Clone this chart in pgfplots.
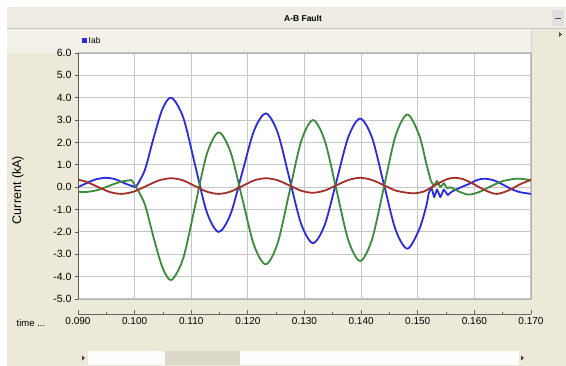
\documentclass[border=0pt]{standalone}
\usepackage{fontspec}
\setmainfont{Liberation Sans}
\usepackage{pgfplots}
\pgfplotsset{compat=1.18}
\definecolor{bgbeige}{HTML}{ECE9D8}
\definecolor{barbeige}{HTML}{EFEDE3}
\definecolor{legbeige}{HTML}{F3F1E8}
\definecolor{gridgray}{HTML}{C6C6C6}
\definecolor{cblue}{HTML}{2A2AE0}
\definecolor{cgreen}{HTML}{3B8B3B}
\definecolor{cred}{HTML}{A3302A}
\begin{document}
\begin{tikzpicture}[x=1pt,y=1pt]
\useasboundingbox (0,0) rectangle (566,366);
\fill[white] (0,0) rectangle (566,366);
\fill[bgbeige] (7,0) rectangle (566,359);
% title bar
\fill[barbeige] (7,338) rectangle (566,359);
\draw[gray!45, line width=0.8pt] (7,338) -- (566,338);
\node[font=\bfseries\fontsize{8.5}{9}\selectfont] at (303,348) {A-B Fault};
\fill[gray!25] (552,340) rectangle (564,356);
\draw[black!70, line width=1pt] (555,347) -- (561,347);
% legend bar
\fill[legbeige] (7,313) rectangle (531,337);
\draw[gray!35] (531,313) -- (531,337);
\fill[black!70] (559,329) -- (562,331.5) -- (559,334) -- cycle;
\fill[cblue] (82,323) rectangle (87,328);
\node[anchor=west, font=\fontsize{8.5}{9}\selectfont, inner sep=0pt] at (88.5,325.5) {Iab};
% scrollbar
\fill[white!92!bgbeige] (88,1) rectangle (519,15);
\fill[bgbeige!85!gray] (165,1) rectangle (240,15);
\fill[black!75] (85,8) -- (82,5.5) -- (82,10.5) -- cycle;
\fill[black!75] (521,5.5) -- (524,8) -- (521,10.5) -- cycle;
% labels
\node[rotate=90, font=\fontsize{12.5}{13}\selectfont] at (18,176) {Current (kA)};
\node[font=\fontsize{9.5}{10}\selectfont] at (31,43) {time ...};

\begin{axis}[
  at={(78pt,67pt)}, anchor=south west, scale only axis,
  width=453pt, height=246pt,
  xmin=0.09, xmax=0.17, ymin=-5, ymax=6,
  axis background/.style={fill=white},
  xtick={0.09,0.1,0.11,0.12,0.13,0.14,0.15,0.16,0.17},
  xticklabels={},
  x tick style={draw=none},
  ytick={-5,-4,-3,-2,-1,0,1,2,3,4,5,6},
  yticklabels={-5.0,-4.0,-3.0,-2.0,-1.0,0.0,1.0,2.0,3.0,4.0,5.0,6.0},
  ytick pos=left, tick align=outside, major tick length=3pt,
  y tick style={black!65, line width=0.8pt},
  yticklabel style={font=\fontsize{10.5}{11}\selectfont},
  grid=major, major grid style={gridgray, line width=1pt},
  axis line style={gray!60, line width=0.8pt},
]
% blue
\addplot[cblue, line width=1.8pt, smooth] coordinates {(0.0900,0.00) (0.0915,0.18) (0.0930,0.34) (0.0949,0.42) (0.0965,0.36) (0.0980,0.20) (0.0992,0.08) (0.1002,0.00)};
\addplot[cblue, line width=1.8pt, smooth] coordinates {(0.1002,0.00) (0.10178,0.75) (0.10335,2.20) (0.10493,3.50) (0.10650,4.00) (0.10858,3.12) (0.11067,1.00) (0.11275,-1.12) (0.11483,-2.00) (0.11692,-1.22) (0.11900,0.65) (0.12108,2.52) (0.12317,3.30) (0.12525,2.45) (0.12733,0.40) (0.12942,-1.65) (0.13150,-2.50) (0.13358,-1.68) (0.13567,0.29) (0.13775,2.25) (0.13983,3.07) (0.14192,2.22) (0.14400,0.16) (0.14608,-1.90) (0.14817,-2.75) (0.15025,-1.89) (0.15150,-0.85) (0.15190,-0.30)};
\addplot[cblue, line width=1.8pt, line join=round] coordinates {(0.15190,-0.30) (0.15240,0.00) (0.15290,-0.45) (0.15340,-0.10) (0.15400,-0.45) (0.15460,-0.10) (0.15530,-0.35) (0.15600,-0.20)};
\addplot[cblue, line width=1.8pt, smooth] coordinates {(0.15600,-0.20) (0.15750,-0.02) (0.15900,0.14) (0.16050,0.32) (0.16180,0.38) (0.16350,0.30) (0.16500,0.12) (0.16650,-0.08) (0.16800,-0.22) (0.17000,-0.30)};
% green
\addplot[cgreen, line width=1.8pt, smooth] coordinates {(0.0900,-0.20) (0.0912,-0.22) (0.0933,-0.14) (0.0954,0.05) (0.0975,0.24) (0.0995,0.32)};
\addplot[cgreen, line width=1.8pt] coordinates {(0.0995,0.32) (0.1002,0.02)};
\addplot[cgreen, line width=1.8pt, smooth] coordinates {(0.1002,0.02) (0.10178,-0.75) (0.10335,-2.25) (0.10493,-3.60) (0.10650,-4.15) (0.10858,-3.18) (0.11067,-0.85) (0.11275,1.48) (0.11483,2.45) (0.11692,1.59) (0.11900,-0.50) (0.12108,-2.59) (0.12317,-3.45) (0.12525,-2.51) (0.12733,-0.23) (0.12942,2.06) (0.13150,3.00) (0.13358,2.08) (0.13567,-0.15) (0.13775,-2.38) (0.13983,-3.30) (0.14192,-2.34) (0.14400,-0.03) (0.14608,2.29) (0.14817,3.25) (0.15025,2.33) (0.15150,1.07) (0.15230,0.30)};
\addplot[cgreen, line width=1.8pt, line join=round] coordinates {(0.15230,0.30) (0.15280,0.05) (0.15340,0.28) (0.15400,0.00) (0.15460,0.18) (0.15520,-0.05) (0.15580,0.00)};
\addplot[cgreen, line width=1.8pt, smooth] coordinates {(0.15580,0.00) (0.15750,-0.22) (0.15910,-0.33) (0.16100,-0.20) (0.16300,0.05) (0.16500,0.27) (0.16740,0.38) (0.16900,0.35) (0.17000,0.30)};
% red
\addplot[cred, line width=1.8pt, smooth] coordinates {(0.0900,0.33) (0.09138,0.25) (0.09345,0.02) (0.09553,-0.21) (0.0976,-0.30) (0.09983,-0.20) (0.10205,0.05) (0.10428,0.30) (0.10650,0.40) (0.10858,0.30) (0.11067,0.05) (0.11275,-0.20) (0.11483,-0.30) (0.11692,-0.20) (0.11900,0.05) (0.12108,0.30) (0.12317,0.40) (0.12525,0.31) (0.12733,0.08) (0.12942,-0.16) (0.13150,-0.25) (0.13358,-0.15) (0.13567,0.09) (0.13775,0.32) (0.13983,0.42) (0.14192,0.32) (0.14400,0.09) (0.14608,-0.15) (0.14817,-0.25) (0.14950,-0.27) (0.15100,-0.20) (0.15250,0.00) (0.15400,0.22) (0.15520,0.36) (0.15650,0.42) (0.15800,0.36) (0.16000,0.12) (0.16200,-0.15) (0.16390,-0.30) (0.16600,-0.15) (0.16800,0.12) (0.17000,0.33)};
\end{axis}
\draw[black!65, line width=1pt] (78,67) -- (78,313);

\begin{axis}[
  at={(78pt,52pt)}, anchor=south west, scale only axis,
  width=453pt, height=10pt,
  xmin=0.09, xmax=0.17, ymin=0, ymax=1,
  axis x line=bottom, axis y line=none,
  x axis line style={-, black!60, line width=0.8pt},
  xtick={0.09,0.1,0.11,0.12,0.13,0.14,0.15,0.16,0.17},
  xticklabels={0.090,0.100,0.110,0.120,0.130,0.140,0.150,0.160,0.170},
  minor x tick num=1,
  tick align=inside, major tick length=4pt, minor tick length=2pt,
  x tick style={black!60, line width=0.8pt},
  xticklabel style={font=\fontsize{10}{11}\selectfont},
]
\addplot[draw=none] coordinates {(0.09,0.5) (0.17,0.5)};
\end{axis}
\end{tikzpicture}
\end{document}
